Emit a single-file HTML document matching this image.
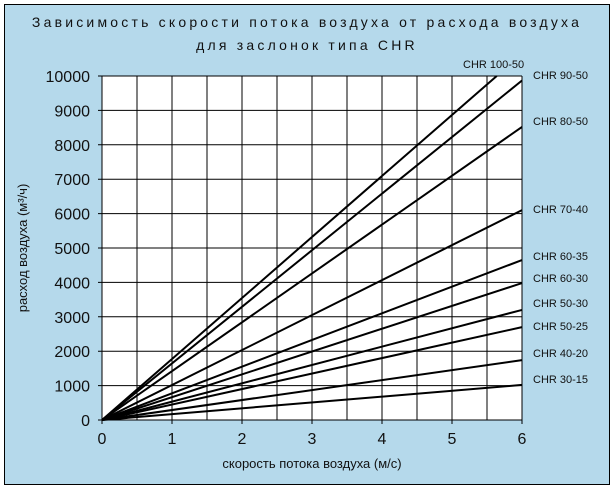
<!DOCTYPE html>
<html><head><meta charset="utf-8"><style>
body{margin:0;width:615px;height:490px;background:#fff;font-family:"Liberation Sans",sans-serif}
svg text{font-family:"Liberation Sans",sans-serif}
</style></head><body>
<svg id="c" width="615" height="490" xmlns="http://www.w3.org/2000/svg">
<rect x="4.5" y="4.5" width="605" height="480" fill="#b5d9eb" stroke="#000"/>
<text x="307" y="27" text-anchor="middle" font-size="14" letter-spacing="3.2" fill="#111">Зависимость скорости потока воздуха от расхода воздуха</text>
<text x="307" y="50" text-anchor="middle" font-size="14" letter-spacing="3.2" fill="#111">для заслонок типа CHR</text>
<rect x="102" y="76" width="420" height="344" fill="#fff"/>
<g id="grid"></g><g id="lines"></g><g id="labels"></g>
<text x="312" y="468" text-anchor="middle" font-size="13" fill="#111">скорость потока воздуха (м/с)</text>
<text transform="translate(27,248) rotate(-90)" text-anchor="middle" font-size="13" fill="#111">расход воздуха (м³/ч)</text>
</svg>
<script>
const seriesNames=["CHR 100-50","CHR 90-50","CHR 80-50","CHR 70-40","CHR 60-35","CHR 60-30","CHR 50-30","CHR 50-25","CHR 40-20","CHR 30-15"];
const valuesAt6=[10640,9870,8520,6100,4650,3980,3200,2700,1740,1020];
const xTicks=[0,1,2,3,4,5,6];
const yTicks=[0,1000,2000,3000,4000,5000,6000,7000,8000,9000,10000];
const labelY=[64,75,121,209,256,278,303,326,353,379];
const NS="http://www.w3.org/2000/svg";
const X=v=>102+v*70, Y=v=>420-v*0.0344;
function mk(t,a,p){const e=document.createElementNS(NS,t);for(const k in a)e.setAttribute(k,a[k]);p.appendChild(e);return e;}
const g=document.getElementById('grid'),L=document.getElementById('lines'),lb=document.getElementById('labels');
for(let i=0;i<=12;i++){const v=i/2;
 const l=mk('line',{x1:X(v),x2:X(v),y1:76,y2:i%2==0?424:420,stroke:'#000','stroke-width':1},g);
 
 }
yTicks.forEach(v=>{
 const l=mk('line',{x1:98,x2:522,y1:Y(v),y2:Y(v),stroke:'#000','stroke-width':1},g);
 
 
 const t=mk('text',{x:90,y:Y(v)+6,'text-anchor':'end','font-size':16,fill:'#111'},g);t.textContent=v;
 
 });
xTicks.forEach(v=>{const t=mk('text',{x:X(v),y:444,'text-anchor':'middle','font-size':16,fill:'#111'},g);t.textContent=v;
 
 });
seriesNames.forEach((n,i)=>{
 let vx=6,vy=valuesAt6[i];
 if(vy>10000){vx=6*10000/vy;vy=10000;}
 const l=mk('line',{x1:X(0),y1:Y(0),x2:X(vx),y2:Y(vy),stroke:'#000','stroke-width':2},L);
 
 
 const t=mk('text',{x:i==0?463:533,y:labelY[i]+4,'font-size':11,fill:'#111'},lb);t.textContent=n;
 
 
});
</script>
</body></html>
